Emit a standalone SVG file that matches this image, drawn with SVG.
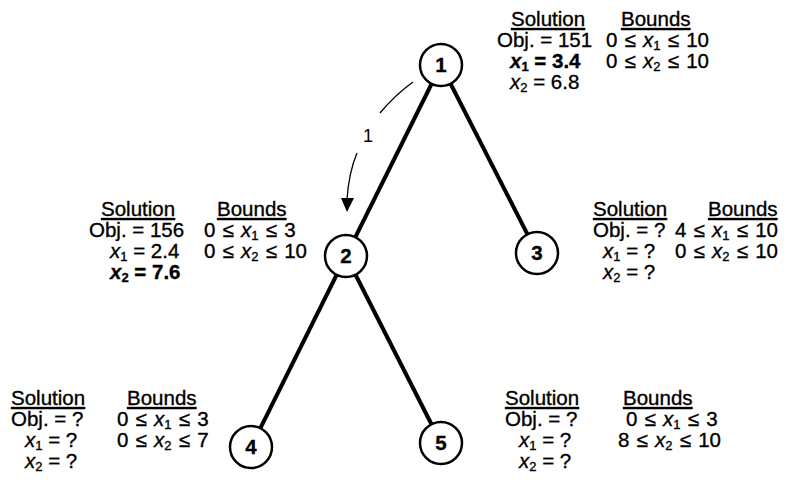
<svg xmlns="http://www.w3.org/2000/svg" width="793" height="489" viewBox="0 0 793 489">
<style>
text{font-family:"Liberation Sans",Arial,sans-serif;font-size:20.5px;fill:#000;stroke:#000;stroke-width:0.35}
.u{text-decoration:underline}
.b{font-weight:bold}
.i{font-style:italic}
.s{font-size:13px}
.w{word-spacing:1.5px}
.edge{stroke:#000;stroke-width:4;fill:none}
.node circle{fill:#fff;stroke:#000;stroke-width:2.5}
.node text{font-weight:bold;text-anchor:middle}
.thin{stroke:#000;stroke-width:1.3;fill:none}
</style>
<g id="connectors">
<line class="edge" x1="441" y1="65" x2="346" y2="256"/>
<line class="edge" x1="441" y1="65" x2="537" y2="253"/>
<line class="edge" x1="346" y1="256" x2="251" y2="447"/>
<line class="edge" x1="346" y1="256" x2="441" y2="443"/>
<path class="thin" d="M413,82 Q395,95 380,113"/>
<path class="thin" d="M357,153 Q349,172 347,199"/>
<polygon points="341,198 354,198 347,212" fill="#000"/>
<text x="368" y="142" text-anchor="middle" style="font-size:18px;stroke-width:0">1</text>
</g>
<g id="node1" class="node"><circle cx="441" cy="65" r="21"/><text x="441" y="72">1</text></g>
<g id="node2" class="node"><circle cx="346" cy="256" r="21"/><text x="346" y="263">2</text></g>
<g id="node3" class="node"><circle cx="537" cy="253" r="21"/><text x="537" y="260">3</text></g>
<g id="node4" class="node"><circle cx="251" cy="447" r="21"/><text x="251" y="454">4</text></g>
<g id="node5" class="node"><circle cx="441" cy="443" r="21"/><text x="441" y="450">5</text></g>
<g id="info1">
<text x="511" y="26" class="u">Solution</text>
<text x="621" y="26" class="u">Bounds</text>
<text x="497" y="47">Obj. = 151</text>
<text x="606" y="47" class="w">0 ≤ <tspan class="i">x</tspan><tspan class="s" dy="3">1</tspan><tspan dy="-3"> ≤ 10</tspan></text>
<text x="510" y="68" class="b"><tspan class="i">x</tspan><tspan class="s" dy="3">1</tspan><tspan dy="-3"> = 3.4</tspan></text>
<text x="606" y="68" class="w">0 ≤ <tspan class="i">x</tspan><tspan class="s" dy="3">2</tspan><tspan dy="-3"> ≤ 10</tspan></text>
<text x="510" y="89"><tspan class="i">x</tspan><tspan class="s" dy="3">2</tspan><tspan dy="-3"> = 6.8</tspan></text>
</g>
<g id="info2">
<text x="101" y="216" class="u">Solution</text>
<text x="217" y="216" class="u">Bounds</text>
<text x="89" y="237">Obj. = 156</text>
<text x="204" y="237" class="w">0 ≤ <tspan class="i">x</tspan><tspan class="s" dy="3">1</tspan><tspan dy="-3"> ≤ 3</tspan></text>
<text x="110" y="258"><tspan class="i">x</tspan><tspan class="s" dy="3">1</tspan><tspan dy="-3"> = 2.4</tspan></text>
<text x="204" y="258" class="w">0 ≤ <tspan class="i">x</tspan><tspan class="s" dy="3">2</tspan><tspan dy="-3"> ≤ 10</tspan></text>
<text x="110" y="279" class="b"><tspan class="i">x</tspan><tspan class="s" dy="3">2</tspan><tspan dy="-3"> = 7.6</tspan></text>
</g>
<g id="info3">
<text x="593" y="216" class="u">Solution</text>
<text x="708" y="216" class="u">Bounds</text>
<text x="593" y="237">Obj. = ?</text>
<text x="675" y="237" class="w">4 ≤ <tspan class="i">x</tspan><tspan class="s" dy="3">1</tspan><tspan dy="-3"> ≤ 10</tspan></text>
<text x="603" y="258"><tspan class="i">x</tspan><tspan class="s" dy="3">1</tspan><tspan dy="-3"> = ?</tspan></text>
<text x="675" y="258" class="w">0 ≤ <tspan class="i">x</tspan><tspan class="s" dy="3">2</tspan><tspan dy="-3"> ≤ 10</tspan></text>
<text x="603" y="279"><tspan class="i">x</tspan><tspan class="s" dy="3">2</tspan><tspan dy="-3"> = ?</tspan></text>
</g>
<g id="info4">
<text x="11" y="405" class="u">Solution</text>
<text x="127" y="405" class="u">Bounds</text>
<text x="11" y="426">Obj. = ?</text>
<text x="117" y="426" class="w">0 ≤ <tspan class="i">x</tspan><tspan class="s" dy="3">1</tspan><tspan dy="-3"> ≤ 3</tspan></text>
<text x="25" y="447"><tspan class="i">x</tspan><tspan class="s" dy="3">1</tspan><tspan dy="-3"> = ?</tspan></text>
<text x="117" y="447" class="w">0 ≤ <tspan class="i">x</tspan><tspan class="s" dy="3">2</tspan><tspan dy="-3"> ≤ 7</tspan></text>
<text x="25" y="468"><tspan class="i">x</tspan><tspan class="s" dy="3">2</tspan><tspan dy="-3"> = ?</tspan></text>
</g>
<g id="info5">
<text x="505" y="405" class="u">Solution</text>
<text x="623" y="405" class="u">Bounds</text>
<text x="505" y="426">Obj. = ?</text>
<text class="w"><tspan x="626" y="426">0 ≤ </tspan><tspan class="i">x</tspan><tspan class="s" dy="3">1</tspan><tspan dy="-3"> ≤ 3</tspan><tspan x="618" y="447">8 ≤ </tspan><tspan class="i">x</tspan><tspan class="s" dy="3">2</tspan><tspan dy="-3"> ≤ 10</tspan></text>
<text x="519" y="447"><tspan class="i">x</tspan><tspan class="s" dy="3">1</tspan><tspan dy="-3"> = ?</tspan></text>
<text x="519" y="468"><tspan class="i">x</tspan><tspan class="s" dy="3">2</tspan><tspan dy="-3"> = ?</tspan></text>
</g>
</svg>
